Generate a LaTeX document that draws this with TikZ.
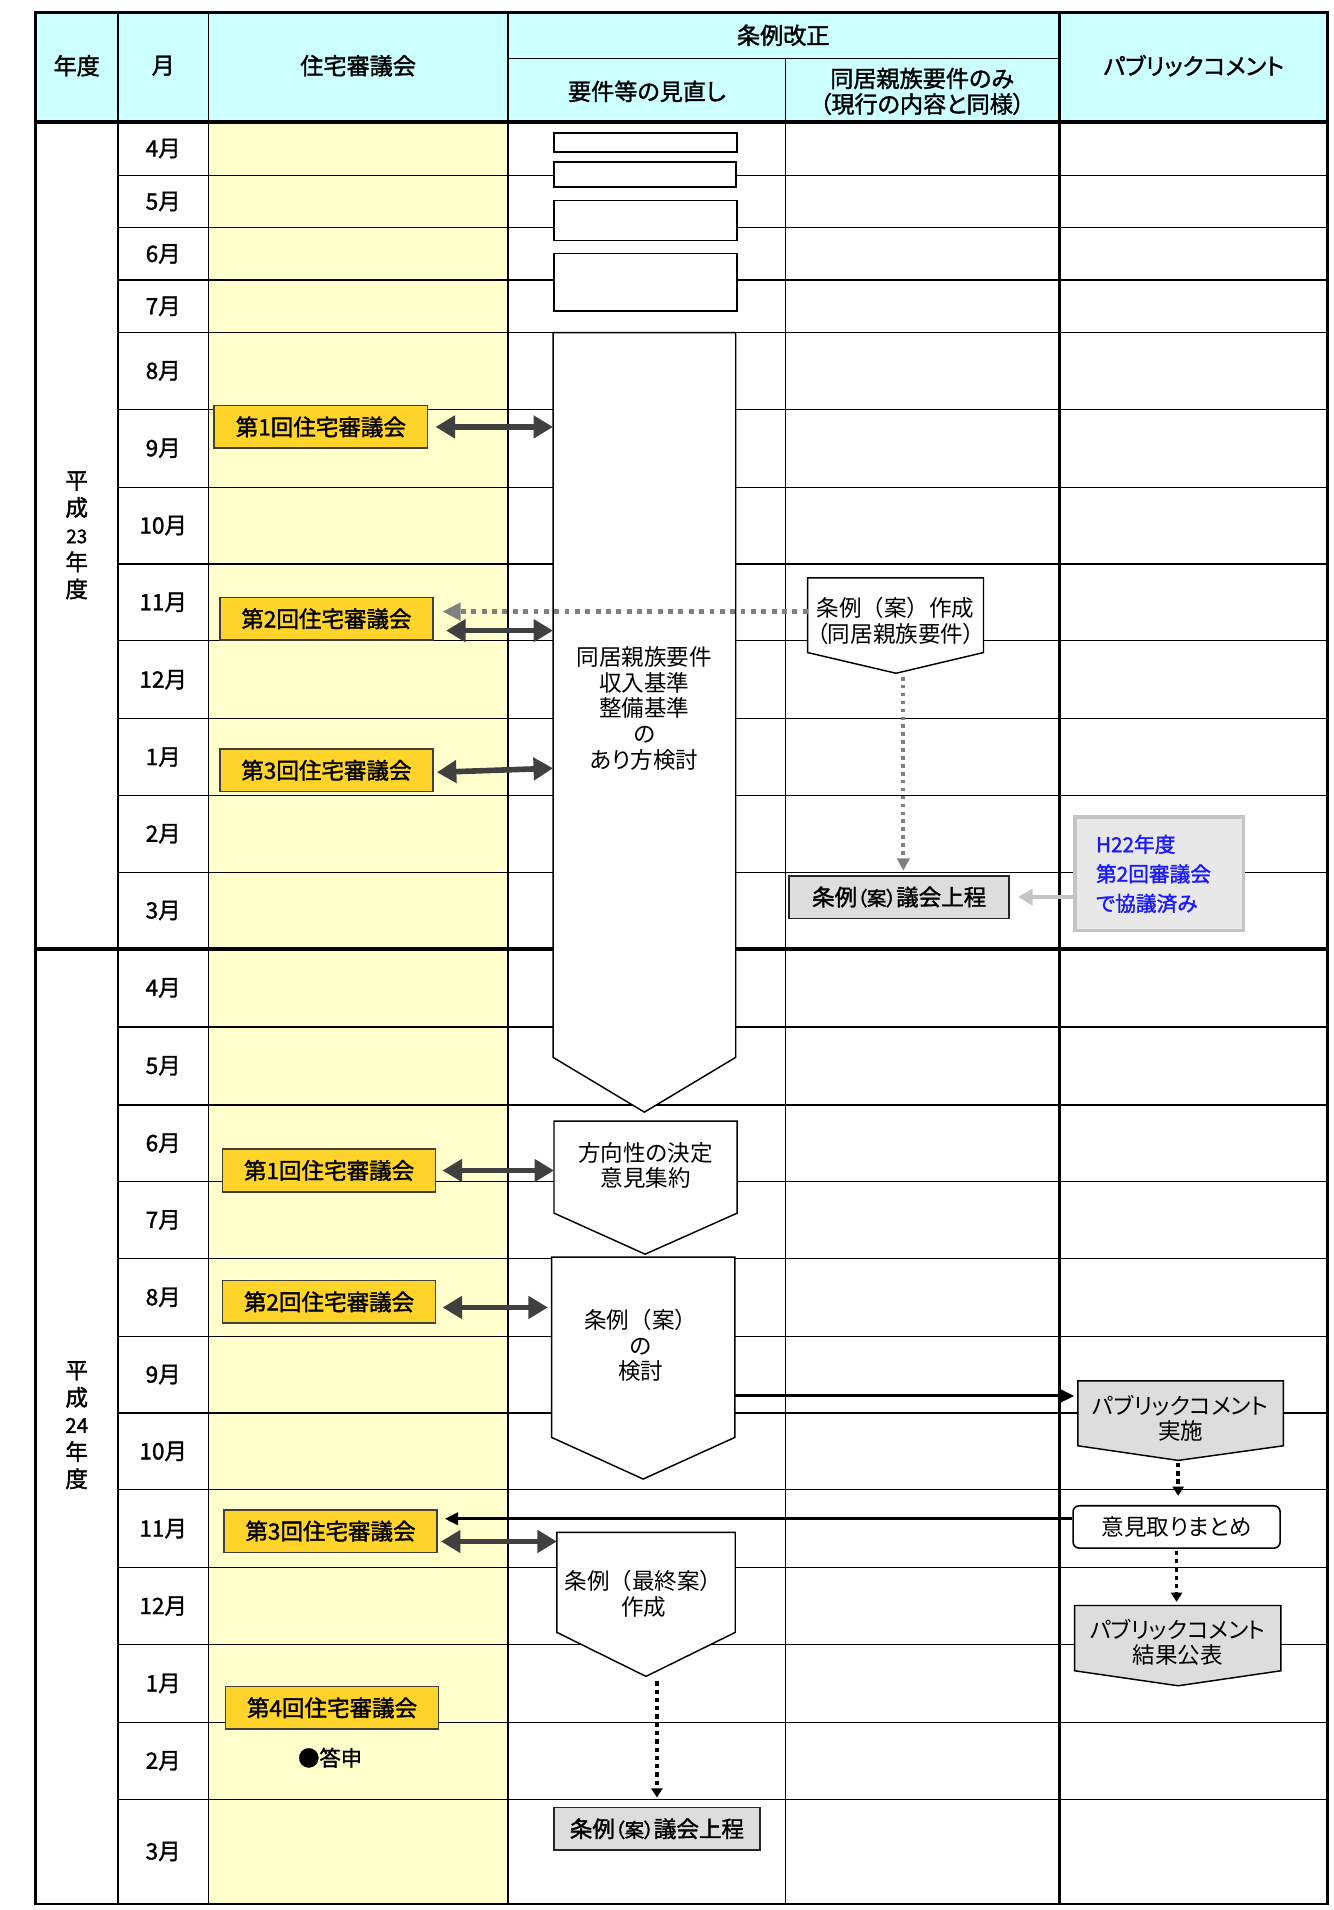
\documentclass[tikz,border=0pt]{standalone}
\usepackage{fontspec}
\setmainfont{Noto Sans CJK JP}[RawFeature=+palt]
\newfontfamily\fullw{Noto Sans CJK JP}
\newfontfamily\semib{Noto Sans CJK JP}[RawFeature=+palt,FakeBold=1.5]
\usetikzlibrary{arrows.meta,calc,fit}
\definecolor{ink}{HTML}{000000}
\definecolor{head}{HTML}{CCFFFF}
\definecolor{council}{HTML}{FFFFCC}
\definecolor{gold}{HTML}{FFD42A}
\definecolor{dark}{HTML}{404040}
\definecolor{greyfill}{HTML}{DDDDDD}
\definecolor{pale}{HTML}{E8E8E8}
\definecolor{rim}{HTML}{C4C4C4}
\definecolor{dots}{HTML}{808080}
\definecolor{note}{HTML}{1A1AFF}
\tikzset{
  every node/.style={font=\fontsize{18.5}{21}\selectfont,text=ink},
  cell/.style={line width=1.1pt,draw=ink},
  heavy/.style={line width=2.2pt,draw=ink},
  headtxt/.style={font=\semib\fontsize{19}{21}\selectfont,align=center,inner sep=0},
  month/.style={font=\semib\fontsize{18.5}{21}\selectfont,inner sep=0},
  yeartxt/.style={font=\semib\fontsize{18.5}{22.3}\selectfont,align=center,inner sep=0},
  kaigi/.style={draw=dark,fill=gold,line width=1.3pt,minimum width=175pt,minimum height=35pt,inner sep=0,font=\semib\fontsize{18.5}{21}\selectfont},
  emptybox/.style={draw=ink,fill=white,line width=1.3pt,inner sep=0,minimum width=150pt},
  body/.style={inner sep=0,outer sep=0},
  flow/.style={draw=ink,fill=white,line width=1.2pt},
  flowtxt/.style={align=center,inner sep=0,font=\fontsize{18.5}{21}\selectfont},
  gikai/.style={draw=ink!85,fill=greyfill,line width=1.3pt,minimum height=35pt,inner sep=0,font=\semib\fontsize{18.5}{21}\selectfont},
  dbl/.style={{Triangle[length=16pt,width=18pt]}-{Triangle[length=16pt,width=18pt]},line width=4.6pt,draw=dark},
  dotgray/.style={-{Triangle[length=15pt,width=14pt]},line width=4pt,draw=dots,dash pattern=on 4pt off 4.5pt},
  dotgraydown/.style={-{Triangle[length=10pt,width=10pt]},line width=3.4pt,draw=dots,dash pattern=on 3pt off 3.5pt},
  dotblk/.style={-{Triangle[length=7.5pt,width=9pt]},line width=3pt,draw=ink,dash pattern=on 3.6pt off 3.2pt},
  blk/.style={-{Triangle[length=11pt,width=10pt]},line width=2.6pt,draw=ink},
  lightarr/.style={-{Triangle[length=12pt,width=13pt]},line width=3.5pt,draw=rim}
}
\begin{document}
\begin{tikzpicture}[x=1pt,y=-1pt]
\path[use as bounding box] (0,0) rectangle (1095,1568);
\fill[head] (29,10) rectangle (1090,100);
\fill[council] (171,100) rectangle (417,1563);
\foreach \y in {144,187,230,273,336,400,463,526,590,653,716,843,907,970,1033,1097,1160,1223,1287,1350,1414,1477}
  \draw[cell] (97,\y) -- (1090,\y);
\draw[cell] (417,48) -- (870,48);
\draw[cell] (97,10) -- (97,1563);
\draw[cell] (171,10) -- (171,1563);
\draw[cell] (645,48) -- (645,1563);
\draw[heavy] (417,10) -- (417,1563);
\draw[heavy] (870,10) -- (870,1563);
\draw[heavy,line width=3pt] (29,100) -- (1090,100);
\draw[heavy,line width=3pt] (29,779) -- (1090,779);
\draw[heavy] (29,10) rectangle (1090,1563);
\node[headtxt] (hnendo) at (63,54) {年度};
\node[headtxt] (htsuki) at (134,54) {月};
\node[headtxt] (hkaigi) at (294,54) {住宅審議会};
\node[headtxt] (hjorei) at (643,29) {条例改正};
\node[headtxt] (hyoken) at (531,75) {要件等の見直し};
\node[headtxt] (hdokyo) at (757,75) {同居親族要件のみ\\（現行の内容と同様）};
\node[headtxt] (hpub) at (980,54) {パブリックコメント};
\node[yeartxt] (nendo1) at (63,439.5) {平\\成\\{\fontsize{15.5}{18}\selectfont 23}\\年\\度};
\node[yeartxt] (nendo2) at (63,1170) {平\\成\\{\fontsize{17}{18}\selectfont 24}\\年\\度};
\foreach \m/\yy [count=\i] in {4月/122,5月/165.5,6月/208.5,7月/251.5,8月/304.5,9月/368,10月/431.5,11月/494.5,12月/558,1月/621.5,2月/684.5,3月/747.5}
  \node[month] (mA\i) at (134,\yy) {\m};
\foreach \m/\yy [count=\i] in {4月/811,5月/875,6月/938.5,7月/1001.5,8月/1065,9月/1128.5,10月/1191.5,11月/1255,12月/1318.5,1月/1382,2月/1445.5,3月/1520}
  \node[month] (mB\i) at (134,\yy) {\m};
\node[emptybox,minimum height=15.5pt] (blank1) at (530,116.8) {};
\node[emptybox,minimum width=149pt,minimum height=20.5pt] (blank2) at (529.5,143.3) {};
\node[emptybox,minimum height=33pt] (blank3) at (530,181) {};
\node[emptybox,minimum height=47.5pt] (blank4) at (530,231.8) {};
\node[fit={(454,273) (604,868)},body] (kento) {};
\coordinate (kento tip) at (529,913);
\draw[flow] (kento.north west) -- (kento.north east) -- (kento.south east) -- (kento tip) -- (kento.south west) -- cycle;
\node[flowtxt] (kentotxt) at ([yshift=-11pt]kento.center) {同居親族要件\\収入基準\\整備基準\\の\\あり方検討};
\node[kaigi] (kai11) at (263.4,350.5) {第1回住宅審議会};
\node[kaigi] (kai12) at (268,508) {第2回住宅審議会};
\node[kaigi] (kai13) at (268,632.4) {第3回住宅審議会};
\node[fit={(663,474.4) (807.4,535.7)},body] (sakusei) {};
\coordinate (sakusei tip) at (735.6,552.7);
\draw[flow] (sakusei.north west) -- (sakusei.north east) -- (sakusei.south east) -- (sakusei tip) -- (sakusei.south west) -- cycle;
\node[flowtxt] (sakuseitxt) at ([yshift=-4.5pt]sakusei.center) {{\fullw 条例（案）作成}\\（同居親族要件）};
\node[gikai,minimum width=180.6pt] (gikai1) at (738.2,736.4) {条例{\fontsize{16}{18}\selectfont（案）}議会上程};
\node[draw=rim,fill=pale,line width=3pt,text width=104pt,inner xsep=17pt,minimum height=93pt,align=left,
 font=\semib\fontsize{17}{24.2}\selectfont,text=note] (h22) at (951.75,717.4) {H22年度\\第2回審議会\\で協議済み};
\node[fit={(454.8,920.4) (605.2,995.9)},body] (hoko) {};
\coordinate (hoko tip) at (529.6,1029.6);
\draw[flow] (hoko.north west) -- (hoko.north east) -- (hoko.south east) -- (hoko tip) -- (hoko.south west) -- cycle;
\node[flowtxt] (hokotxt) at ([yshift=1.5pt]hoko.center) {方向性の決定\\意見集約};
\node[fit={(452.8,1032) (603.3,1180)},body] (kento2) {};
\coordinate (kento2 tip) at (528,1214.2);
\draw[flow] (kento2.north west) -- (kento2.north east) -- (kento2.south east) -- (kento2 tip) -- (kento2.south west) -- cycle;
\node[flowtxt] (kento2txt) at ([xshift=-2pt,yshift=1.5pt]kento2.center) {{\fullw 条例（案）}\\の\\検討};
\node[fit={(457.2,1258) (603.6,1340.1)},body] (saisyu) {};
\coordinate (saisyu tip) at (530.3,1376.2);
\draw[flow] (saisyu.north west) -- (saisyu.north east) -- (saisyu.south east) -- (saisyu tip) -- (saisyu.south west) -- cycle;
\node[flowtxt] (saisyutxt) at ([xshift=-2pt,yshift=-9.5pt]saisyu.center) {{\fullw 条例（最終案）}\\作成};
\node[gikai,minimum width=169.4pt] (gikai2) at (539.3,1501.3) {条例{\fontsize{16}{18}\selectfont（案）}議会上程};
\node[kaigi] (kai21) at (270.15,960.9) {第1回住宅審議会};
\node[kaigi] (kai22) at (270.15,1068.75) {第2回住宅審議会};
\node[kaigi] (kai23) at (271.35,1256.95) {第3回住宅審議会};
\node[kaigi] (kai24) at (272.6,1402) {第4回住宅審議会};
\node[font=\semib\fontsize{17.5}{20}\selectfont,inner sep=0] (toshin) at (271,1443) {●答申};
\node[fit={(884.9,1133.6) (1053.5,1186.9)},body] (pabu1) {};
\coordinate (pabu1 tip) at (967.2,1198.9);
\draw[flow,fill=greyfill] (pabu1.north west) -- (pabu1.north east) -- (pabu1.south east) -- (pabu1 tip) -- (pabu1.south west) -- cycle;
\node[flowtxt] (pabu1txt) at ([yshift=-4pt]pabu1.center) {パブリックコメント\\実施};
\node[draw=ink,fill=white,rounded corners=5pt,line width=1.3pt,minimum width=170pt,minimum height=34.7pt,inner sep=0] (matome) at (965.9,1253.5) {意見取りまとめ};
\node[fit={(882.2,1318) (1051.5,1371.6)},body] (kekka) {};
\coordinate (kekka tip) at (967.2,1383.9);
\draw[flow,fill=greyfill] (kekka.north west) -- (kekka.north east) -- (kekka.south east) -- (kekka tip) -- (kekka.south west) -- cycle;
\node[flowtxt] (kekkatxt) at ([yshift=-3.5pt]kekka.center) {パブリックコメント\\結果公表};
\draw[dbl,shorten <=6pt] (kai11.east) -- (kai11.east -| kento.west);
\coordinate (d12) at ([yshift=-9.7pt]kai12.east);
\draw[dbl,shorten <=10pt] (d12) -- (d12 -| kento.west);
\coordinate (d13) at ([yshift=1.7pt]kai13.east);
\draw[dbl] ([xshift=2.5pt,yshift=-1.6pt]kai13.east) -- (d13 -| kento.west);
\coordinate (gs) at ([yshift=3pt]sakusei.west);
\draw[dotgray,shorten >=7pt] (gs) -- (gs -| kai12.east);
\coordinate (g1) at ([xshift=6pt]sakusei tip);
\draw[dotgraydown,shorten <=3pt,shorten >=3.5pt] (g1) -- (g1 |- gikai1.north);
\draw[lightarr,shorten >=6.5pt] (h22.west |- gikai1.east) -- (gikai1.east);
\draw[dbl,shorten <=5pt] (kai21.east) -- (kai21.east -| hoko.west);
\coordinate (d22) at ([yshift=-4.6pt]kai22.east);
\draw[dbl,shorten <=5pt,shorten >=3pt] (d22) -- (d22 -| kento2.west);
\coordinate (d23) at ([yshift=-8.5pt]kai23.east);
\draw[dbl,shorten <=2.5pt] (d23) -- (d23 -| saisyu.west);
\coordinate (p1) at ([yshift=14.3pt]pabu1.west);
\draw[blk,shorten >=3pt] (p1 -| kento2.east) -- (p1);
\draw[dotblk,shorten <=2pt,shorten >=7.5pt] (pabu1 tip) -- (pabu1 tip |- matome.north);
\coordinate (m3) at ([yshift=6.7pt]matome.west);
\draw[blk,shorten >=5.6pt] (m3) -- (m3 -| kai23.east);
\draw[dotblk,shorten <=1.5pt,shorten >=3pt] (matome.south) -- (matome.south |- kekka.north);
\draw[dotblk,shorten <=4pt,shorten >=7.5pt] (gikai2.north |- saisyu tip) -- (gikai2.north);
\end{tikzpicture}
\end{document}
